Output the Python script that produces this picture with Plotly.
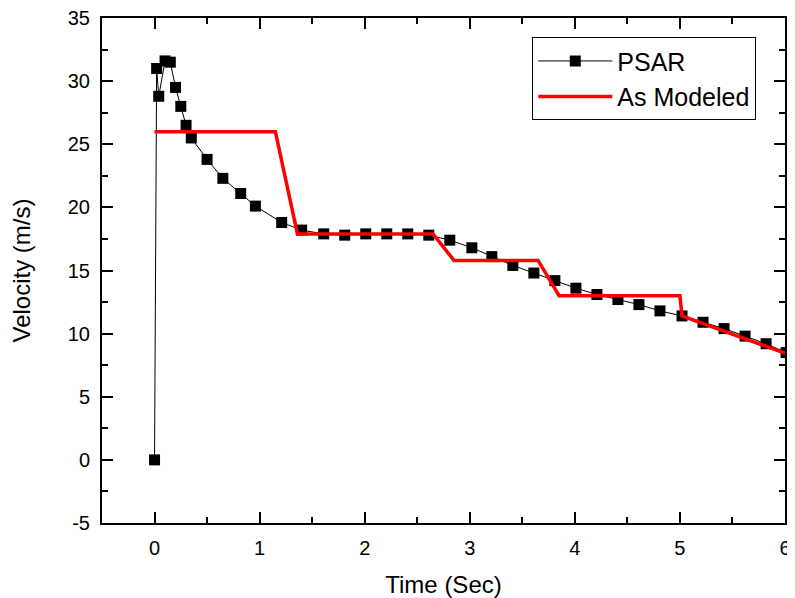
import plotly.graph_objects as go

# PSAR measured velocity
psar_t = [0.0, 0.02, 0.04, 0.10, 0.15, 0.20, 0.25, 0.30, 0.35, 0.50, 0.65, 0.82, 0.96,
          1.21, 1.40, 1.61, 1.81, 2.01, 2.21, 2.41, 2.61, 2.81, 3.02, 3.21, 3.41, 3.61,
          3.81, 4.01, 4.21, 4.41, 4.61, 4.81, 5.02, 5.22, 5.42, 5.62, 5.82, 6.01]
psar_v = [0.0, 31.0, 28.8, 31.6, 31.5, 29.5, 28.0, 26.5, 25.5, 23.8, 22.3, 21.1, 20.1,
          18.8, 18.2, 17.9, 17.8, 17.9, 17.9, 17.9, 17.8, 17.4, 16.8, 16.1, 15.4, 14.8,
          14.2, 13.6, 13.1, 12.7, 12.3, 11.8, 11.4, 10.9, 10.4, 9.8, 9.2, 8.5]

# As Modeled
model_t = [0.0, 1.15, 1.36, 2.65, 2.85, 3.65, 3.85, 5.0, 5.02, 6.05]
model_v = [26.0, 26.0, 17.9, 17.9, 15.8, 15.8, 13.0, 13.0, 11.4, 8.3]

x_ticks = [0, 1, 2, 3, 4, 5, 6]
y_ticks = [-5, 0, 5, 10, 15, 20, 25, 30, 35]

FONT = "Liberation Sans, Arial, sans-serif"

fig = go.Figure()
fig.add_trace(go.Scatter(
    x=psar_t, y=psar_v, mode="lines+markers", name="PSAR",
    line=dict(color="black", width=1),
    marker=dict(symbol="square", size=11, color="black"),
))
fig.add_trace(go.Scatter(
    x=model_t, y=model_v, mode="lines", name="As Modeled",
    line=dict(color="#ff0000", width=3.5),
))

axis_common = dict(
    showgrid=False, zeroline=False, showline=True, linecolor="black", linewidth=2,
    mirror="ticks", ticks="inside", ticklen=11, tickwidth=2, tickcolor="black",
    tickfont=dict(family=FONT, size=20, color="black"),
    automargin=False, ticklabeloverflow="allow",
)

fig.update_xaxes(
    range=[-0.5, 6], tickvals=x_ticks, ticktext=[str(v) for v in x_ticks],
    minor=dict(ticks="inside", ticklen=6, tickwidth=2, tickcolor="black", dtick=0.5, showgrid=False),
    title=dict(text="Time (Sec)", font=dict(family=FONT, size=24, color="black"), standoff=19),
    ticklabelstandoff=6,
    **axis_common,
)
fig.update_yaxes(
    range=[-5, 35], tickvals=y_ticks, ticktext=[str(v) for v in y_ticks],
    minor=dict(ticks="inside", ticklen=6, tickwidth=2, tickcolor="black", dtick=2.5, showgrid=False),
    title=dict(text="Velocity (m/s)", font=dict(family=FONT, size=24, color="black"), standoff=34),
    ticklabelstandoff=6,
    **axis_common,
)

fig.update_layout(
    width=787, height=590,
    margin=dict(l=94, r=10, t=10, b=75),
    paper_bgcolor="white", plot_bgcolor="white",
    showlegend=True,
    legend=dict(
        x=0.63, y=0.962, xanchor="left", yanchor="top",
        bgcolor="white", bordercolor="black", borderwidth=1,
        font=dict(family=FONT, size=25, color="black"),
        itemwidth=74, tracegroupgap=0,
    ),
)

fig.write_html("out.html")
